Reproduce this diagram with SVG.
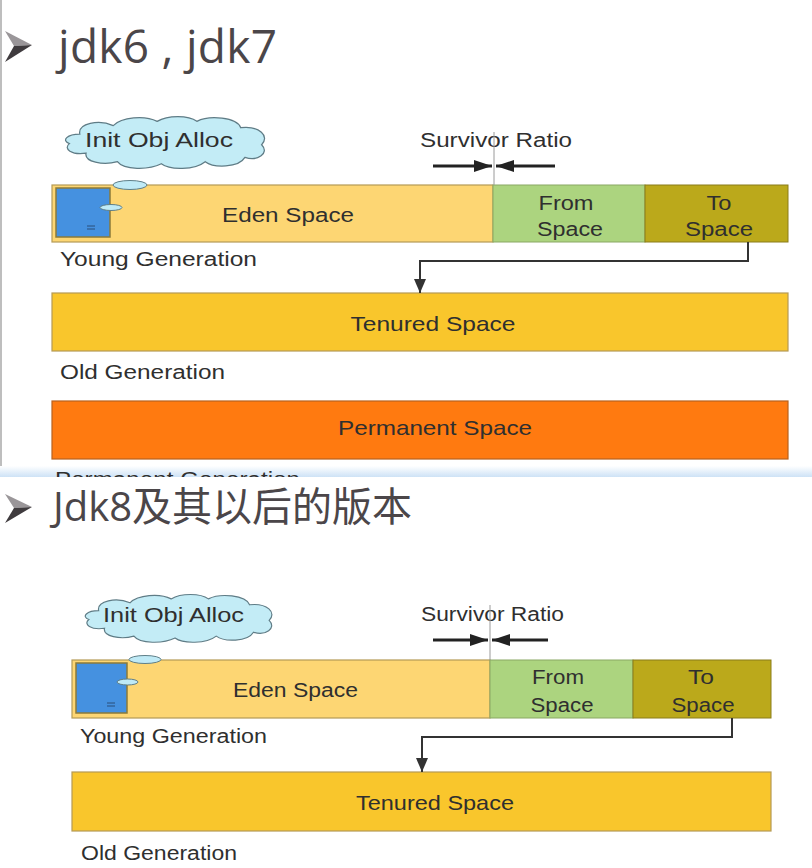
<svg xmlns="http://www.w3.org/2000/svg" width="812" height="868" viewBox="0 0 812 868">
<style>
.lbl{font-family:"Liberation Sans",Arial,sans-serif;font-size:20px;fill:#2f2f2f}
.big{font-size:21px}
.title{font-family:"Open Sans","Noto Sans CJK SC",sans-serif;fill:#4b4649}
.bar{stroke:#b59a55;stroke-width:1.2}
.eden{fill:#fdd673}
.from{fill:#acd47f;stroke:#8aa864;stroke-width:1}
.to{fill:#bba91b;stroke:#8a7d1a;stroke-width:1}
.ten{fill:#f9c62c}
.perm{fill:#ff7a10;stroke:#b8611e;stroke-width:1.2}
.blue{fill:#4591e0;stroke:#8a7a3a;stroke-width:1.5}
.bub{fill:#bfeaf6;stroke:#5f7f88;stroke-width:1}
.cloud{fill:#c3ecf6;stroke:#5f7c86;stroke-width:1.2}
.conn{fill:none;stroke:#333;stroke-width:2}
.sr{fill:none;stroke:#222;stroke-width:3}
.vl{stroke:#9a9a9a;stroke-width:1}
</style>
<defs>
<marker id="srh" markerUnits="userSpaceOnUse" markerWidth="18" markerHeight="12" refX="18" refY="6" orient="auto">
<path d="M0,0 L18,6 L0,12 Z" fill="#222"/>
</marker>
<marker id="ah" markerUnits="userSpaceOnUse" markerWidth="12" markerHeight="14" refX="6" refY="14" orient="0">
<path d="M0,0 L12,0 L6,14 Z" fill="#333"/>
</marker>
<path id="cloudp" d="M8,27 C0,24 6,18 18,18 C16,8 36,4 50,10 C58,2 80,0 92,6 C102,0 122,0 130,6 C142,0 168,2 172,12 C190,10 200,20 192,28 C200,36 188,44 176,40 C170,50 146,50 138,44 C128,52 104,52 96,46 C84,52 60,52 54,44 C40,48 22,44 24,36 C10,38 2,32 8,27 Z"/>
<linearGradient id="band" x1="0" y1="0" x2="0" y2="1">
<stop offset="0" stop-color="#ffffff"/>
<stop offset="1" stop-color="#cde2f6"/>
</linearGradient>
<clipPath id="clipPG"><rect x="0" y="440" width="812" height="37"/></clipPath>
</defs>
<rect width="812" height="868" fill="#ffffff"/>
<line x1="1" y1="0" x2="1" y2="474" stroke="#a8a8a8" stroke-width="1.5"/>

<!-- Section 1 title -->
<g id="title1">
<polygon points="5,31 32,45 14,46" fill="#9a9699"/>
<polygon points="14,46 32,45 5,62" fill="#3f3b3e"/>
<text class="title" x="58" y="63" font-size="46" textLength="219">jdk6 , jdk7</text>
</g>

<g id="cloud1">
<use href="#cloudp" class="cloud" transform="translate(61,115) scale(1.045,1.06)"/>
<text class="lbl big" x="85" y="147" font-size="22" textLength="148" lengthAdjust="spacingAndGlyphs">Init Obj Alloc</text>
</g>

<g id="eden1">
<rect class="bar eden" x="52" y="185" width="441" height="57"/>
<rect class="blue" x="56" y="188" width="54" height="49"/>
<ellipse class="bub" cx="130" cy="185" rx="17" ry="4.5"/>
<ellipse class="bub" cx="111" cy="207.5" rx="11" ry="3"/>
<path d="M87,226 H95 M87,229 H95" stroke="#2a4f7a" stroke-width="1"/>
<text class="lbl" x="222" y="222" textLength="132" lengthAdjust="spacingAndGlyphs">Eden Space</text>
</g>
<g id="from1">
<rect class="from" x="493" y="185" width="152" height="57"/>
<text class="lbl" x="566" y="210" text-anchor="middle" textLength="55" lengthAdjust="spacingAndGlyphs">From</text>
<text class="lbl" x="570" y="236" text-anchor="middle" textLength="66" lengthAdjust="spacingAndGlyphs">Space</text>
</g>
<g id="to1">
<rect class="to" x="645" y="185" width="143" height="57"/>
<text class="lbl" x="719" y="210" text-anchor="middle" textLength="25" lengthAdjust="spacingAndGlyphs">To</text>
<text class="lbl" x="719" y="236" text-anchor="middle" textLength="68" lengthAdjust="spacingAndGlyphs">Space</text>
</g>
<g id="survivor1">
<text class="lbl" x="420" y="147" textLength="152" lengthAdjust="spacingAndGlyphs">Survivor Ratio</text>
<line class="vl" x1="494" y1="132" x2="494" y2="185"/>
</g>
<text id="young1" class="lbl" x="60" y="266" textLength="197" lengthAdjust="spacingAndGlyphs">Young Generation</text>
<g id="tenured1">
<rect class="bar ten" x="52" y="293" width="736" height="58"/>
<text class="lbl big" x="433" y="331" text-anchor="middle" textLength="165" lengthAdjust="spacingAndGlyphs">Tenured Space</text>
</g>
<text id="old1" class="lbl" x="60" y="379" textLength="165" lengthAdjust="spacingAndGlyphs">Old Generation</text>
<g id="perm1">
<rect class="perm" x="52" y="401" width="736" height="58"/>
<text class="lbl big" x="435" y="435" text-anchor="middle" textLength="194" lengthAdjust="spacingAndGlyphs">Permanent Space</text>
</g>

<!-- separator band -->
<rect x="0" y="466" width="812" height="11" fill="url(#band)"/>
<text id="permgen1" class="lbl" x="55" y="486" textLength="245" lengthAdjust="spacingAndGlyphs" clip-path="url(#clipPG)">Permanent Generation</text>

<!-- Section 2 title -->
<g id="title2">
<polygon points="5,494 32,507 14,508" fill="#9a9699"/>
<polygon points="14,508 32,507 5,523" fill="#3f3b3e"/>
<text class="title" x="53" y="521" font-size="40">Jdk8及其以后的版本</text>
</g>

<g id="cloud2">
<use href="#cloudp" class="cloud" transform="translate(81,593) scale(0.98,0.98)"/>
<text class="lbl big" x="103" y="622" font-size="22" textLength="141" lengthAdjust="spacingAndGlyphs">Init Obj Alloc</text>
</g>

<g id="eden2">
<rect class="bar eden" x="72" y="660" width="418" height="58"/>
<rect class="blue" x="76" y="663" width="51" height="50"/>
<ellipse class="bub" cx="145" cy="659.5" rx="16" ry="4"/>
<ellipse class="bub" cx="127.5" cy="682" rx="10.5" ry="3"/>
<path d="M107,703 H115 M107,706 H115" stroke="#2a4f7a" stroke-width="1"/>
<text class="lbl" x="233" y="697" textLength="125" lengthAdjust="spacingAndGlyphs">Eden Space</text>
</g>
<g id="from2">
<rect class="from" x="490" y="660" width="143" height="58"/>
<text class="lbl" x="558" y="684" text-anchor="middle" textLength="52" lengthAdjust="spacingAndGlyphs">From</text>
<text class="lbl" x="562" y="712" text-anchor="middle" textLength="63" lengthAdjust="spacingAndGlyphs">Space</text>
</g>
<g id="to2">
<rect class="to" x="633" y="660" width="138" height="58"/>
<text class="lbl" x="701" y="684" text-anchor="middle" textLength="26" lengthAdjust="spacingAndGlyphs">To</text>
<text class="lbl" x="703" y="712" text-anchor="middle" textLength="63" lengthAdjust="spacingAndGlyphs">Space</text>
</g>
<g id="survivor2">
<text class="lbl" x="421" y="621" textLength="143" lengthAdjust="spacingAndGlyphs">Survivor Ratio</text>
<line class="vl" x1="490" y1="605" x2="490" y2="660"/>
</g>
<text id="young2" class="lbl" x="80" y="743" textLength="187" lengthAdjust="spacingAndGlyphs">Young Generation</text>
<g id="tenured2">
<rect class="bar ten" x="72" y="772" width="699" height="59"/>
<text class="lbl big" x="435" y="810" text-anchor="middle" textLength="158" lengthAdjust="spacingAndGlyphs">Tenured Space</text>
</g>
<text id="old2" class="lbl" x="81" y="860" textLength="156" lengthAdjust="spacingAndGlyphs">Old Generation</text>

<g id="connectors">
<line class="sr" x1="433" y1="166" x2="492" y2="166" marker-end="url(#srh)"/>
<line class="sr" x1="555" y1="166" x2="496" y2="166" marker-end="url(#srh)"/>
<path class="conn" d="M748,242 V261 H420 V293" marker-end="url(#ah)"/>
<line class="sr" x1="433" y1="640" x2="488" y2="640" marker-end="url(#srh)"/>
<line class="sr" x1="548" y1="640" x2="492" y2="640" marker-end="url(#srh)"/>
<path class="conn" d="M732,718 V737 H422 V772" marker-end="url(#ah)"/>
</g>
</svg>
